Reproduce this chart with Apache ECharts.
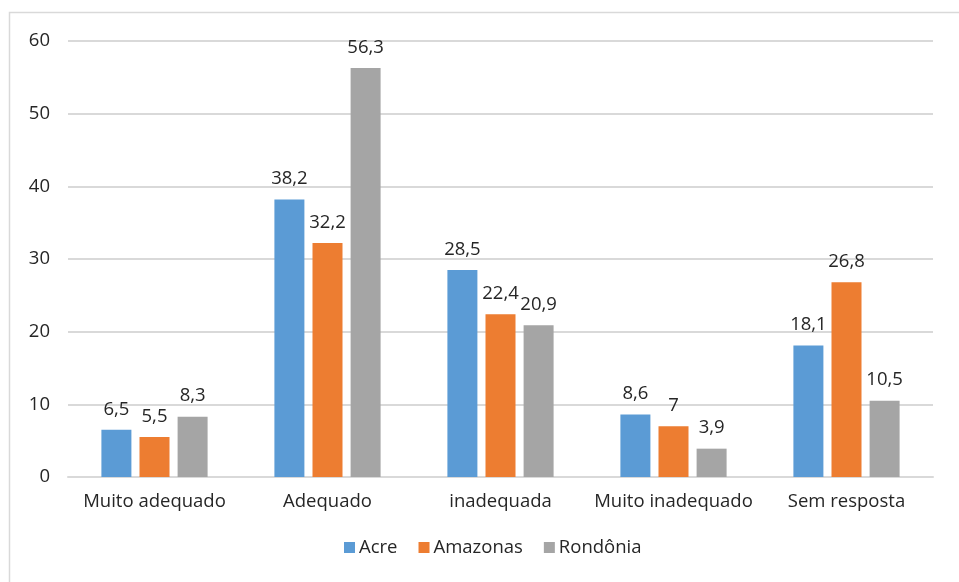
<!DOCTYPE html>
<html>
<head>
<meta charset="utf-8">
<script src="https://cdn.jsdelivr.net/npm/echarts@6/dist/echarts.min.js"></script>
<style>
  html, body { margin: 0; padding: 0; background: #fff; }
  #chart { width: 959px; height: 582px; }
</style>
</head>
<body>
<div id="chart"></div>
<script>
// Categories and per-state percentages
const categories = ['Muito adequado', 'Adequado', 'inadequada', 'Muito inadequado', 'Sem resposta'];
const acre = [6.5, 38.2, 28.5, 8.6, 18.1];
const amazonas = [5.5, 32.2, 22.4, 7, 26.8];
const rondonia = [8.3, 56.3, 20.9, 3.9, 10.5];
const yTicks = { min: 0, max: 60, interval: 10 };

const fontFamily = '"Open Sans", "Noto Sans", sans-serif';
const textColor = '#262626';
const fontSize = 18.5;

const fmt = v => String(v).replace('.', ',');

function barSeries(name, data, color) {
  return {
    name: name,
    type: 'bar',
    data: data,
    barWidth: 30,
    barGap: '27%',
    itemStyle: { color: color },
    label: {
      show: true,
      position: 'top',
      distance: 11,
      color: textColor,
      fontFamily: fontFamily,
      fontSize: fontSize,
      formatter: p => fmt(p.value)
    }
  };
}

const chart = echarts.init(document.getElementById('chart'));
chart.setOption({
  backgroundColor: '#fff',
  animation: false,
  graphic: [{
    type: 'rect',
    shape: { x: 9.5, y: 12.5, width: 960, height: 580 },
    style: { fill: 'none', stroke: '#d9d9d9', lineWidth: 1.5 },
    silent: true
  }],
  grid: { left: 68, right: 26, top: 41, bottom: 105, containLabel: false },
  legend: {
    bottom: 20,
    left: 339,
    itemWidth: 11,
    itemHeight: 11,
    itemGap: 21,
    icon: 'rect',
    textStyle: { color: textColor, fontFamily: fontFamily, fontSize: fontSize, padding: [0, 0, 0, -1] },
    data: ['Acre', 'Amazonas', 'Rondônia']
  },
  xAxis: {
    type: 'category',
    data: categories,
    axisLine: { show: true, lineStyle: { color: '#d9d9d9', width: 2 } },
    axisTick: { show: false },
    axisLabel: { interval: 0, color: textColor, fontFamily: fontFamily, fontSize: fontSize, margin: 15 }
  },
  yAxis: {
    type: 'value',
    min: yTicks.min,
    max: yTicks.max,
    interval: yTicks.interval,
    axisLine: { show: false },
    axisTick: { show: false },
    splitLine: { lineStyle: { color: '#d9d9d9', width: 2 } },
    axisLabel: { color: textColor, fontFamily: fontFamily, fontSize: fontSize, margin: 18 }
  },
  series: [
    barSeries('Acre', acre, '#5b9bd5'),
    barSeries('Amazonas', amazonas, '#ed7d31'),
    barSeries('Rondônia', rondonia, '#a5a5a5')
  ]
});
</script>
</body>
</html>
